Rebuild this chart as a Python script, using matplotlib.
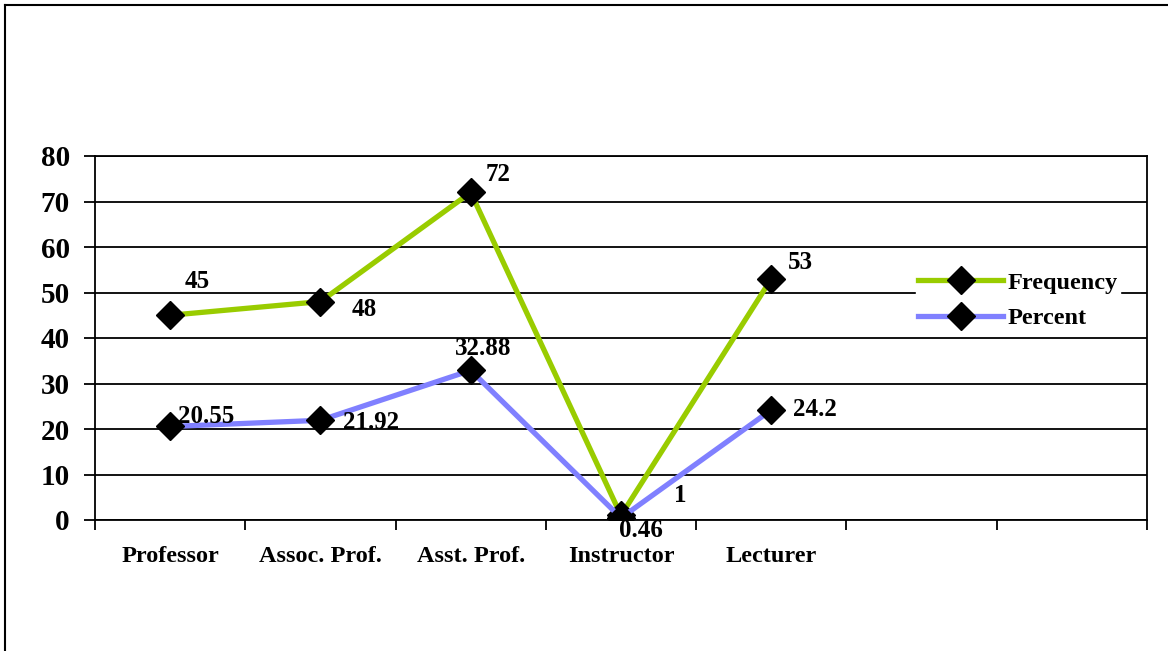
import matplotlib.pyplot as plt
from matplotlib.lines import Line2D

categories = ["Professor", "Assoc. Prof.", "Asst. Prof.", "Instructor", "Lecturer", "", ""]
frequency = [45, 48, 72, 1, 53]
percent = [20.55, 21.92, 32.88, 0.46, 24.2]
yticks = [0, 10, 20, 30, 40, 50, 60, 70, 80]

green = "#99CC00"
blue = "#8080FF"

plt.rcParams["font.family"] = ["Liberation Serif", "DejaVu Serif"]
plt.rcParams["font.weight"] = "bold"

fig = plt.figure(figsize=(11.68, 6.51), dpi=100)
ax = fig.add_axes([95 / 1168, 1 - 520 / 651, (1147 - 95) / 1168, (520 - 156) / 651])

x = list(range(len(frequency)))
ax.plot(x, frequency, color=green, lw=3.8, marker="D", markersize=14,
        markerfacecolor="black", markeredgecolor="black", label="Frequency", zorder=3)
ax.plot(x, percent, color=blue, lw=3.8, marker="D", markersize=14,
        markerfacecolor="black", markeredgecolor="black", label="Percent", zorder=3)

# data labels (offsets in pixels, converted to points)
freq_off = [(27, 34), (44, -8), (27, 18), (59, 20), (29, 16)]
pct_off = [(36, 10), (51, -2), (12, 22), (20, -13), (44, 0)]
for i, v in enumerate(frequency):
    dx, dy = freq_off[i]
    ax.annotate(str(v), (x[i], v), xytext=(dx * 0.72, dy * 0.72), textcoords="offset points",
                ha="center", va="center", fontsize=18, fontweight="bold", zorder=4)
for i, v in enumerate(percent):
    dx, dy = pct_off[i]
    ax.annotate(str(v), (x[i], v), xytext=(dx * 0.72, dy * 0.72), textcoords="offset points",
                ha="center", va="center", fontsize=18, fontweight="bold", zorder=4)

ax.set_xlim(-0.5, len(categories) - 0.5)
ax.set_ylim(0, 80)
ax.set_yticks(yticks)
ax.set_yticklabels([str(t) for t in yticks], fontsize=21, fontweight="bold")
ax.yaxis.grid(True, color="black", lw=1.3)
ax.set_axisbelow(True)

ax.set_xticks([i + 0.5 for i in range(-1, len(categories))])
ax.set_xticklabels([])
ax.tick_params(axis="x", length=7, width=1.3, color="black")
ax.tick_params(axis="y", length=8, width=1.3, color="black", pad=10)
for i, c in enumerate(categories):
    ax.text(i, -0.10, c, transform=ax.get_xaxis_transform(), ha="center", va="center",
            fontsize=17.5, fontweight="bold")

for s in ax.spines.values():
    s.set_linewidth(1.3)
    s.set_color("black")

leg = ax.legend(loc="center left", bbox_to_anchor=(0.78, 0.603), frameon=True,
                fontsize=17.5, handlelength=3.5, handletextpad=0.2, borderpad=0.1,
                labelspacing=0.55, borderaxespad=0)
leg.get_frame().set_edgecolor("white")
leg.get_frame().set_facecolor("white")
leg.get_frame().set_alpha(1)
leg.get_frame().set_boxstyle("square", pad=0)
for t in leg.get_texts():
    t.set_fontweight("bold")

# outer frame (top and left edges visible)
fig.add_artist(Line2D([5 / 1168, 5 / 1168], [0, 1 - 5 / 651], color="black", lw=1.5))
fig.add_artist(Line2D([5 / 1168, 1], [1 - 5 / 651, 1 - 5 / 651], color="black", lw=1.5))

fig.savefig("out.png", dpi=100)
